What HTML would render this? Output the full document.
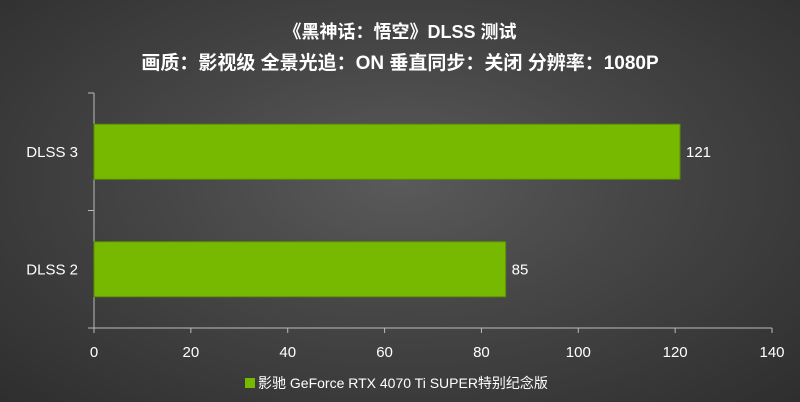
<!DOCTYPE html>
<html><head><meta charset="utf-8"><style>
html,body{margin:0;padding:0}
body{width:800px;height:402px;overflow:hidden;background:radial-gradient(ellipse at 50% 45%,#5a5a5a 0%,#474747 40%,#2e2e2e 100%);font-family:"Liberation Sans","Noto Sans CJK SC",sans-serif;color:#fff}
svg{position:absolute;left:0;top:0}
</style></head><body>
<svg width="800" height="402">
<text x="400" y="38" text-anchor="middle" font-size="18" font-weight="bold" fill="#fff">《黑神话：悟空》DLSS 测试</text>
<text x="400" y="69" text-anchor="middle" font-size="19" font-weight="bold" fill="#fff">画质：影视级 全景光追：ON 垂直同步：关闭 分辨率：1080P</text>
<g id="plot"></g>
<rect x="245" y="378" width="10" height="10" fill="#76b900"/>
<text x="258" y="388" font-size="14" fill="#fff">影驰 GeForce RTX 4070 Ti SUPER特别纪念版</text>
</svg>
<script>
const categories=["DLSS 3","DLSS  2"];
const values=[121,85];
const ticks=[0,20,40,60,80,100,120,140];
const X0=94,X1=772,YT=93,YB=328,max=140;
const xs=v=>X0+(X1-X0)*v/max;
const band=(YB-YT)/categories.length;
const g=document.getElementById('plot');
const NS='http://www.w3.org/2000/svg';
function mk(t,a){const e=document.createElementNS(NS,t);for(const k in a)e.setAttribute(k,a[k]);g.appendChild(e);return e;}
let l=mk('line',{x1:X0,y1:YT,x2:X0,y2:YB,stroke:'#bbb','stroke-width':1});


l=mk('line',{x1:X0,y1:YB,x2:X1,y2:YB,stroke:'#bbb','stroke-width':1});


for(let i=0;i<=categories.length;i++){const y=YT+band*i;const t=mk('line',{x1:X0-6,y1:y,x2:X0,y2:y,stroke:'#bbb'});

}
ticks.forEach(v=>{const x=xs(v);
const t=mk('line',{x1:x,y1:YB,x2:x,y2:YB+5,stroke:'#bbb'});


const tx=mk('text',{x:x,y:357,'text-anchor':'middle','font-size':15,fill:'#fff'});tx.textContent=v;

});
categories.forEach((c,i)=>{const yc=YT+band*(i+0.5);const h=55;
const r=mk('rect',{x:X0,y:yc-h/2,width:xs(values[i])-X0,height:h,fill:'#76b900',stroke:'#5c8f00','stroke-width':1});


const vl=mk('text',{x:xs(values[i])+6,y:yc+5,'font-size':15,fill:'#fff'});vl.textContent=values[i];


const cl=mk('text',{x:X0-16,y:yc+5,'text-anchor':'end','font-size':15,fill:'#fff','xml:space':'preserve'});cl.textContent=c;

});
</script>
</body></html>
